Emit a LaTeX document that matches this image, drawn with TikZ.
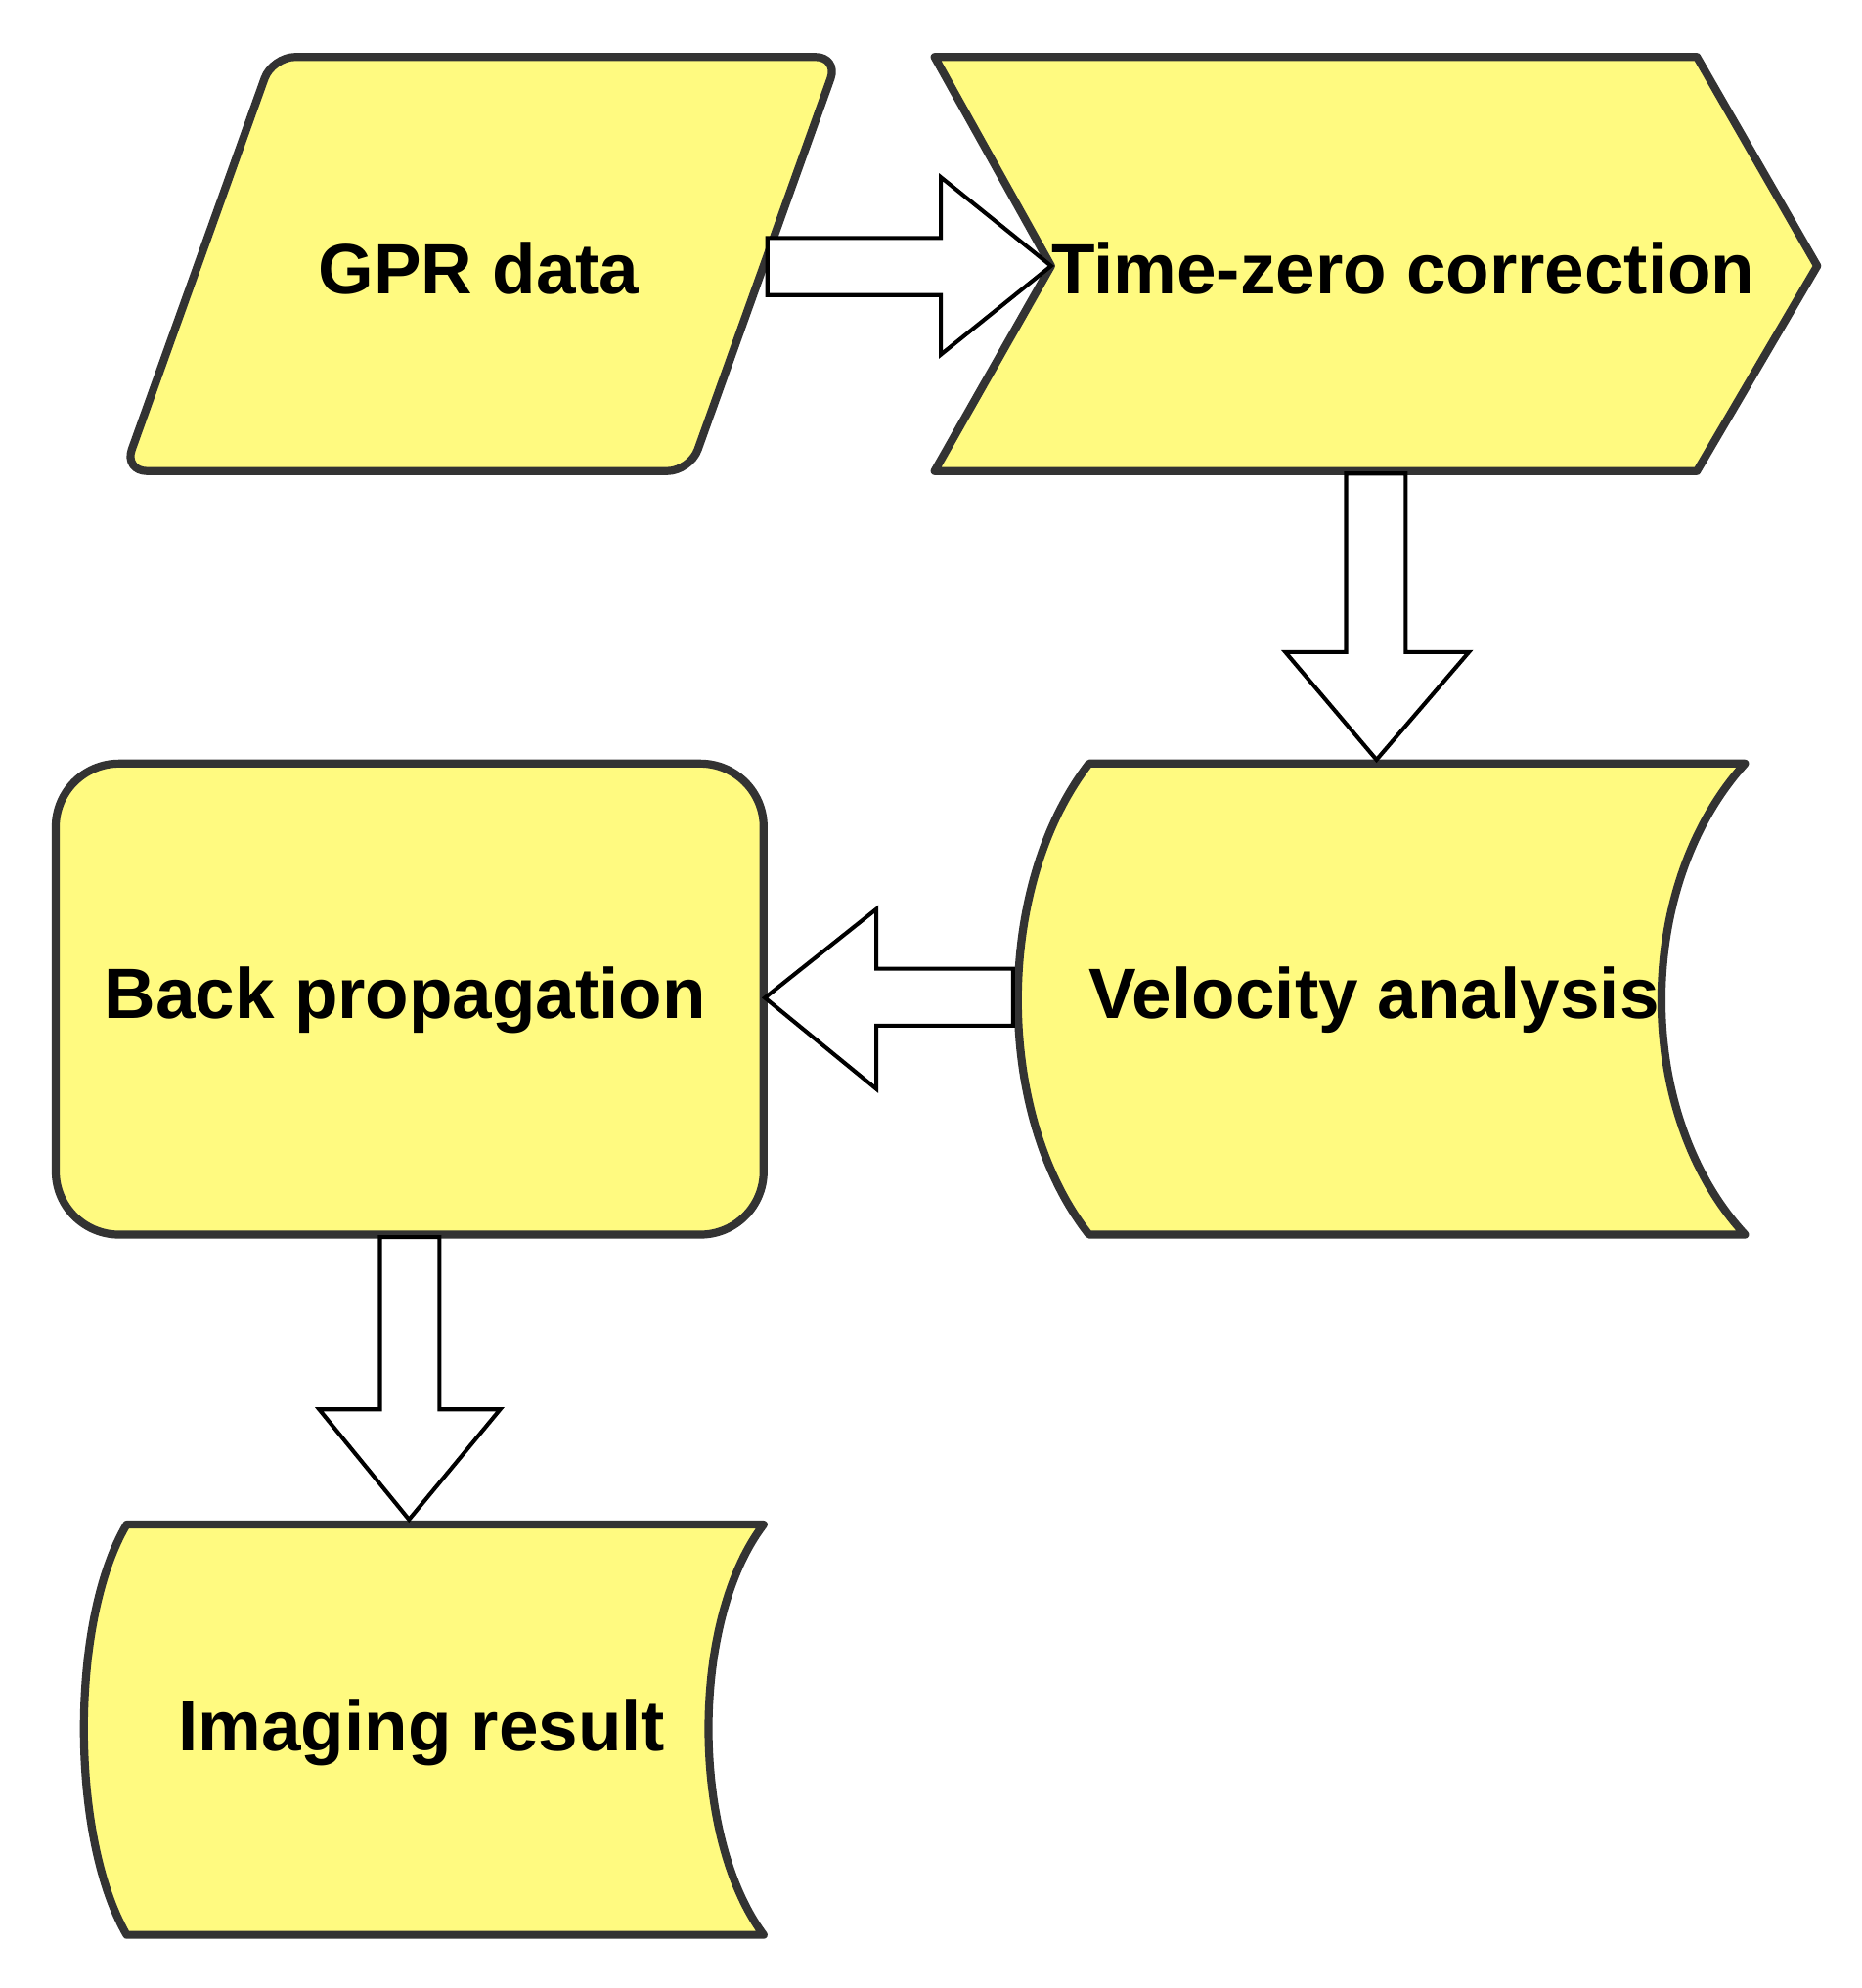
\documentclass[tikz,border=0pt]{standalone}
\usepackage{fontspec}
\setmainfont{Liberation Sans}
\begin{document}
\begin{tikzpicture}[x=0.01cm,y=-0.01cm,
  box/.style={fill=boxfill,draw=boxline,line width=1.8pt,line join=round},
  arr/.style={fill=white,draw=black,line width=0.9pt},
  lbl/.style={font=\bfseries\fontsize{16}{19}\selectfont,text=black}]
\definecolor{boxfill}{RGB}{255,250,128}
\definecolor{boxline}{RGB}{51,51,51}
\useasboundingbox (0,0) rectangle (1470,1570);
% shapes
\draw[box,rounded corners=0.18cm] (215,45) -- (662,45) -- (545,372) -- (98,372) -- cycle;
\draw[box] (738,45) -- (1340,45) -- (1435,210) -- (1340,372) -- (738,372) -- (830,210) -- cycle;
\draw[box] (860,603) -- (1378,603) .. controls (1290,700) and (1290,880) .. (1378,975) -- (860,975) .. controls (785,880) and (785,700) .. (860,603) -- cycle;
\draw[box,rounded corners=0.5cm] (44,603) rectangle (603,975);
\draw[box] (100,1204) -- (603,1204) .. controls (545,1280) and (545,1450) .. (603,1528) -- (100,1528) .. controls (55,1450) and (55,1280) .. (100,1204) -- cycle;
% labels
\node[lbl] (gpr) at (378,212) {GPR data};
\node[lbl] (tz) at (1108,212) {Time-zero correction};
\node[lbl] (va) at (1085,790) {Velocity analysis};
\node[lbl] (bp) at (320,790) {Back propagation};
\node[lbl] (ir) at (333,1368) {Imaging result};
% block arrows
\draw[arr] (606,188) -- (743,188) -- (743,140) -- (830,210) -- (743,280) -- (743,233) -- (606,233) -- cycle;
\draw[arr] (1063,374) -- (1110,374) -- (1110,515) -- (1160,515) -- (1087,600) -- (1015,515) -- (1063,515) -- cycle;
\draw[arr] (800,765) -- (692,765) -- (692,718) -- (604,788) -- (692,860) -- (692,810) -- (800,810) -- cycle;
\draw[arr] (300,977) -- (347,977) -- (347,1113) -- (395,1113) -- (323,1200) -- (252,1113) -- (300,1113) -- cycle;
\end{tikzpicture}
\end{document}
